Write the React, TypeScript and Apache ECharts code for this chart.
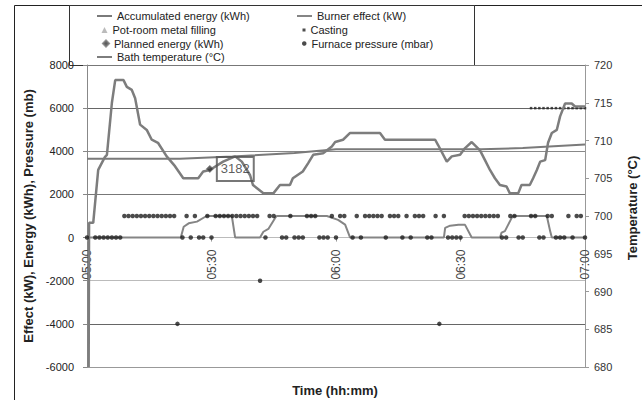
import React, { useEffect, useRef } from 'react';
import * as echarts from 'echarts';

const FONT = '"Liberation Sans", Arial, Helvetica, sans-serif';

const timeLabels = ['05:00', '05:30', '06:00', '06:30', '07:00'];
const leftTicks = [-6000, 8000, 2000]; // min, max, step
const rightTicks = [680, 720, 5];

const seriesNames = [
  'Accumulated energy (kWh)',
  'Burner effect (kW)',
  'Pot-room metal filling',
  'Casting',
  'Planned energy (kWh)',
  'Furnace pressure (mbar)',
  'Bath temperature (°C)',
];

// [minute after 05:00, °C]
const bathTemperature = [
  [0.4, 680], [0.5, 699.1], [1.5, 699.1], [2.7, 706.1], [4.3, 707.8], [4.8, 708.1],
  [6.0, 715.0], [6.8, 718.0], [8.8, 718.0], [9.6, 717.1], [10.8, 716.7], [11.6, 715.6],
  [12.8, 712.1], [14.4, 711.4], [15.6, 710.1], [17.1, 709.7], [19.2, 707.9], [21.2, 706.6],
  [23.2, 705.0], [26.8, 705.0], [28.0, 705.9], [29.6, 706.1], [32.8, 707.2], [35.7, 707.9],
  [37.3, 707.2], [39.3, 705.4], [40.0, 704.1], [42.5, 703.0], [44.9, 703.0], [46.5, 704.1],
  [48.9, 704.1], [49.6, 705.0], [52.0, 705.9], [53.3, 707.0], [54.5, 708.1], [56.9, 708.3],
  [59.0, 709.2], [59.8, 709.8], [61.7, 710.1], [63.4, 711.0], [70.6, 711.0], [71.8, 710.1],
  [83.9, 710.1], [84.6, 709.4], [86.7, 707.2], [87.9, 707.9], [89.9, 708.1], [91.1, 709.0],
  [92.7, 709.8], [94.7, 708.7], [95.9, 707.4], [97.1, 706.1], [98.3, 705.0], [99.5, 704.1],
  [101.1, 703.9], [101.9, 703.0], [103.9, 703.0], [104.7, 704.1], [106.7, 704.1], [107.5, 705.0],
  [108.4, 706.1], [109.2, 707.2], [110.4, 707.4], [111.1, 709.7], [112.0, 711.0], [113.2, 711.4],
  [114.0, 713.2], [115.2, 714.9], [116.8, 714.9], [117.6, 714.5], [120, 714.5],
];

// [minute, kWh]
const accumulatedEnergy = [
  [0, 3650], [22.4, 3650], [35, 3760], [50, 3920], [60, 4090], [95, 4100], [105, 4150], [120, 4310],
];

// [minute, kW]
const burnerEffect = [
  [0, 0], [22.6, 0], [23.3, 500], [24.5, 660], [26.5, 740], [28.8, 1000], [34.9, 1000], [35.7, 0],
  [41.7, 0], [42.5, 270], [43.7, 400], [45.3, 900], [45.7, 1000], [57.8, 1000], [60.5, 820],
  [62.2, 600], [63.4, 0], [86.0, 0], [86.3, 450], [87.5, 550], [89.5, 590], [91.1, 590], [92.7, 0],
  [99.5, 0], [99.9, 230], [100.7, 300], [102.3, 900], [102.7, 1000], [110.8, 1000], [111.6, 300],
  [112.0, 0], [120, 0],
];

const potRoomFilling: number[][] = [];

const castingMinutes = [107, 108, 109, 110, 111, 112, 113, 114, 115, 116, 117, 118, 119, 120];
const castingLevel = 6000;

const plannedEnergy = [[29.6, 3182]];

const pressureHighMinutes = [
  9, 10, 11, 12, 13, 14, 15, 16, 17, 18, 19, 20, 21, 24, 26, 29, 31, 32, 33, 34, 35, 36, 37, 38, 39,
  40, 41, 44, 45, 49, 53, 54, 55, 59, 61, 62, 65, 67, 68, 69, 70, 71, 73, 74, 75, 77, 79, 80, 81, 84,
  86, 91, 92, 93, 94, 95, 96, 97, 98, 99, 102, 103, 107, 108, 111, 112, 116, 118, 119,
];
const pressureLowMinutes = [
  0, 2, 3, 4, 5, 6, 7, 8, 23, 25, 27, 28, 30, 43, 47, 48, 50, 51, 52, 56, 57, 58, 60, 64, 66, 72, 76,
  78, 82, 83, 87, 88, 89, 90, 100, 101, 104, 105, 109, 110, 113, 114, 115, 117, 120,
];
const pressureHigh = 1000;
const pressureLow = 0;
const pressureOutliers = [[21.8, -4000], [41.7, -2000], [84.9, -4000]];

const GRID_TOP = 65;
const GRID_BOTTOM_Y = 367;

export default function App() {
  const ref = useRef<HTMLDivElement>(null);

  useEffect(() => {
    if (!ref.current) return;
    const chart = echarts.init(ref.current, null, { renderer: 'svg' });

    const furnacePressure = [
      ...pressureHighMinutes.map((m) => [m, pressureHigh]),
      ...pressureLowMinutes.map((m) => [m, pressureLow]),
      ...pressureOutliers,
    ];
    const casting = castingMinutes.map((m) => [m, castingLevel]);

    // y pixel of value 0 on the left axis -> offset for the time axis
    const plotH = GRID_BOTTOM_Y - GRID_TOP;
    const zeroY = GRID_TOP + plotH * (leftTicks[1] / (leftTicks[1] - leftTicks[0]));
    const xOffset = -(GRID_BOTTOM_Y - zeroY);

    const legendSpec = [
      { name: seriesNames[0], left: 97, top: 9, w: 15, h: 2, gap: 3, icon: 'rect' },
      { name: seriesNames[1], left: 297, top: 9, w: 15, h: 2, gap: 3, icon: 'rect' },
      { name: seriesNames[2], left: 101.5, top: 23, w: 6, h: 6, gap: 7.5, icon: 'triangle' },
      { name: seriesNames[3], left: 302.5, top: 23, w: 3, h: 3, gap: 9.5, icon: 'rect' },
      { name: seriesNames[4], left: 102, top: 36.5, w: 6, h: 6, gap: 7, icon: 'diamond' },
      { name: seriesNames[5], left: 302, top: 36.5, w: 4.5, h: 4.5, gap: 8.5, icon: 'circle' },
      { name: seriesNames[6], left: 97, top: 50, w: 15, h: 2, gap: 3, icon: 'rect' },
    ];

    const option: any = {
      animation: false,
      backgroundColor: '#ffffff',
      textStyle: { fontFamily: FONT },
      grid: {
        left: 87,
        right: 57,
        top: GRID_TOP,
        bottom: 400 - GRID_BOTTOM_Y,
        containLabel: false,
        outerBoundsMode: 'none',
      },
      legend: legendSpec.map((l) => ({
        left: l.left,
        top: l.top,
        orient: 'vertical',
        padding: 0,
        itemGap: 0,
        itemWidth: l.w,
        itemHeight: l.h,
        itemGap2: 0,
        icon: l.icon,
        textStyle: { fontSize: 11, color: '#222', lineHeight: 14, fontFamily: FONT },
        selectedMode: false,
        data: [{ name: l.name, icon: l.icon }],
        formatter: (n: string) => n,
        textGap: l.gap,
      })),
      graphic: [
        {
          type: 'rect',
          z: -10,
          shape: { x: 14.5, y: 5.5, width: 700, height: 500 },
          style: { fill: 'none', stroke: '#222', lineWidth: 1 },
        },
        {
          type: 'rect',
          z: 0,
          shape: { x: 69.5, y: 5.5, width: 405, height: 60 },
          style: { fill: '#fff', stroke: '#333', lineWidth: 1 },
        },
        {
          type: 'text',
          x: 335,
          y: 390,
          style: {
            text: 'Time (hh:mm)',
            fontSize: 13,
            fontWeight: 'bold',
            fontFamily: FONT,
            fill: '#222',
            align: 'center',
            verticalAlign: 'middle',
            textAlign: 'center',
            textVerticalAlign: 'middle',
          },
        },
        {
          type: 'text',
          x: 632,
          y: 208,
          rotation: Math.PI / 2,
          style: {
            text: 'Temperature (°C)',
            fontSize: 13,
            fontWeight: 'bold',
            fontFamily: FONT,
            fill: '#222',
            align: 'center',
            verticalAlign: 'middle',
            textAlign: 'center',
            textVerticalAlign: 'middle',
          },
        },
      ],
      xAxis: {
        type: 'value',
        position: 'bottom',
        offset: xOffset,
        min: 0,
        max: 120,
        interval: 30,
        axisLine: { show: true, onZero: false, lineStyle: { color: '#bbb', width: 1 } },
        axisTick: { show: true, length: 4, lineStyle: { color: '#999' } },
        axisLabel: {
          rotate: 90,
          margin: 12,
          fontSize: 12,
          color: '#444',
          fontFamily: FONT,
          formatter: (v: number) => timeLabels[Math.round(v / 30)] ?? '',
        },
        splitLine: { show: false },
      },
      yAxis: [
        {
          type: 'value',
          position: 'left',
          min: leftTicks[0],
          max: leftTicks[1],
          interval: leftTicks[2],
          name: 'Effect (kW), Energy (kWh), Pressure (mb)',
          nameLocation: 'middle',
          nameGap: 51,
          nameTextStyle: { fontSize: 13, fontWeight: 'bold', color: '#222', fontFamily: FONT },
          axisLine: { show: true, onZero: false, lineStyle: { color: '#888', width: 1 } },
          axisTick: { show: true, length: 4, lineStyle: { color: '#888' } },
          axisLabel: {
            fontSize: 11,
            color: '#222',
            margin: 13,
            fontFamily: FONT,
            formatter: (v: number) => String(v),
          },
          splitLine: {
            show: true,
            lineStyle: {
              width: 1,
              color: ['#999', '#666', '#bbb', '#bbb', '#777', '#888', '#666', '#777'],
            },
          },
        },
        {
          type: 'value',
          position: 'right',
          min: rightTicks[0],
          max: rightTicks[1],
          interval: rightTicks[2],
          axisLine: { show: true, onZero: false, lineStyle: { color: '#999', width: 1 } },
          axisTick: { show: true, length: 4, lineStyle: { color: '#999' } },
          axisLabel: {
            fontSize: 11,
            color: '#333',
            margin: 9,
            fontFamily: FONT,
            formatter: (v: number) => String(v),
          },
          splitLine: { show: false },
        },
      ],
      series: [
        {
          name: seriesNames[0],
          type: 'line',
          yAxisIndex: 0,
          data: accumulatedEnergy,
          symbol: 'none',
          color: '#7a7a7a',
          lineStyle: { color: '#7a7a7a', width: 2 },
          z: 2,
        },
        {
          name: seriesNames[1],
          type: 'line',
          yAxisIndex: 0,
          data: burnerEffect,
          symbol: 'none',
          color: '#858585',
          lineStyle: { color: '#858585', width: 2 },
          z: 2,
        },
        {
          name: seriesNames[2],
          type: 'scatter',
          yAxisIndex: 0,
          data: potRoomFilling,
          symbol: 'triangle',
          symbolSize: 7,
          itemStyle: { color: '#aaaaaa' },
        },
        {
          name: seriesNames[3],
          type: 'scatter',
          yAxisIndex: 0,
          data: casting,
          symbol: 'rect',
          symbolSize: 2.5,
          itemStyle: { color: '#222' },
          z: 2,
        },
        {
          name: seriesNames[4],
          type: 'scatter',
          yAxisIndex: 0,
          data: plannedEnergy,
          symbol: 'diamond',
          symbolSize: 7,
          itemStyle: { color: '#333', borderColor: '#777', borderWidth: 1 },
          z: 4,
          label: {
            show: true,
            position: 'right',
            distance: 3,
            formatter: (p: any) => String(p.value[1]),
            fontSize: 13,
            color: '#333',
            fontFamily: FONT,
            borderColor: '#555',
            borderWidth: 1,
            padding: [6, 4, 5, 4],
            backgroundColor: 'rgba(0,0,0,0)',
          },
        },
        {
          name: seriesNames[5],
          type: 'scatter',
          yAxisIndex: 0,
          data: furnacePressure,
          symbol: 'circle',
          symbolSize: 4.5,
          itemStyle: { color: '#1e1e1e' },
          z: 4,
        },
        {
          name: seriesNames[6],
          type: 'line',
          yAxisIndex: 1,
          data: bathTemperature,
          symbol: 'none',
          color: '#7d7d7d',
          lineStyle: { color: '#7d7d7d', width: 2.5 },
          z: 3,
        },
      ],
    };

    chart.setOption(option);
    return () => {
      chart.dispose();
    };
  }, []);

  return (
    <div
      ref={ref}
      style={{ position: 'fixed', left: 0, top: 0, width: 642, height: 400, background: '#fff' }}
    />
  );
}
